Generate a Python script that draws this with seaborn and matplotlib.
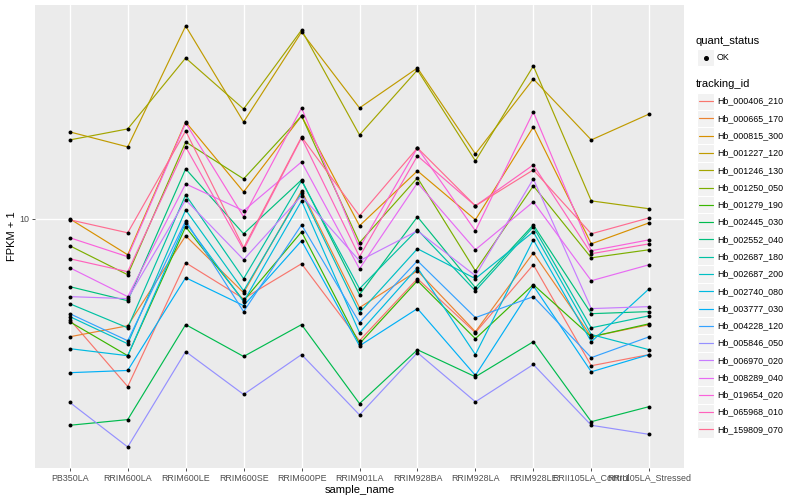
import numpy as np
import pandas as pd
import matplotlib
matplotlib.use("Agg")
import matplotlib.pyplot as plt
import seaborn as sns
from matplotlib.patches import Rectangle

# ---------------- data ----------------
samples = ["PB350LA", "RRIM600LA", "RRIM600LE", "RRIM600SE", "RRIM600PE", "RRIM901LA",
           "RRIM928BA", "RRIM928LA", "RRIM928LE", "RRII105LA_Control", "RRII105LA_Stressed"]

tracking_ids = ["Hb_000406_210", "Hb_000665_170", "Hb_000815_300", "Hb_001227_120",
                "Hb_001246_130", "Hb_001250_050", "Hb_001279_190", "Hb_002445_030",
                "Hb_002552_040", "Hb_002687_180", "Hb_002687_200", "Hb_002740_080",
                "Hb_003777_030", "Hb_004228_120", "Hb_005846_050", "Hb_006970_020",
                "Hb_008289_040", "Hb_019654_020", "Hb_065968_010", "Hb_159809_070"]

hb_000406_210 = [3.95, 2.13, 6.67, 4.79, 6.61, 3.25, 5.76, 3.50, 6.55, 2.58, 2.86]
hb_000665_170 = [3.37, 3.73, 8.55, 5.06, 12.94, 4.41, 6.19, 3.53, 7.31, 3.37, 3.77]
hb_000815_300 = [10.00, 7.18, 24.43, 12.82, 25.82, 9.38, 15.56, 9.91, 23.33, 7.94, 9.64]
hb_001227_120 = [22.29, 19.41, 59.16, 24.43, 55.98, 27.80, 40.18, 18.20, 36.31, 20.70, 26.30]
hb_001246_130 = [20.70, 22.91, 44.06, 27.54, 57.02, 21.68, 39.45, 17.06, 40.93, 11.80, 10.97]
hb_001250_050 = [7.80, 5.97, 20.32, 14.45, 25.82, 8.02, 14.59, 6.19, 13.55, 6.98, 7.52]
hb_001279_190 = [3.87, 2.83, 9.29, 4.70, 8.87, 3.16, 5.65, 3.31, 5.45, 3.37, 3.80]
hb_002445_030 = [1.49, 1.57, 3.77, 2.81, 3.77, 1.82, 2.99, 2.33, 3.22, 1.54, 1.77]
hb_002552_040 = [5.35, 4.70, 15.85, 8.71, 14.32, 4.97, 10.19, 5.30, 9.46, 4.17, 4.25]
hb_002687_180 = [4.57, 3.66, 12.47, 5.76, 14.19, 5.25, 9.04, 5.15, 9.29, 3.66, 4.09]
hb_002687_200 = [4.06, 3.16, 10.86, 5.15, 12.71, 4.21, 7.59, 5.76, 8.87, 3.44, 2.99]
hb_002740_080 = [3.02, 2.83, 9.64, 4.66, 11.80, 3.50, 6.37, 2.86, 8.24, 3.22, 5.25]
hb_003777_030 = [2.42, 2.47, 5.81, 4.49, 8.17, 3.10, 4.37, 2.36, 5.40, 2.44, 2.86]
hb_004228_120 = [4.17, 3.25, 9.82, 4.25, 9.46, 3.84, 6.79, 4.02, 4.88, 2.78, 3.37]
hb_005846_050 = [1.84, 1.22, 2.94, 1.98, 2.86, 1.64, 2.91, 1.85, 2.61, 1.49, 1.37]
hb_006970_020 = [4.88, 4.79, 11.91, 6.86, 12.36, 6.79, 8.95, 5.92, 14.45, 4.37, 4.45]
hb_008289_040 = [6.37, 4.88, 13.80, 10.77, 16.90, 6.31, 13.93, 7.52, 11.70, 5.65, 6.55]
hb_019654_020 = [8.40, 7.05, 24.21, 10.19, 27.80, 7.66, 19.23, 8.95, 26.79, 7.45, 8.24]
hb_065968_010 = [6.92, 6.14, 19.41, 7.52, 21.09, 7.05, 17.87, 11.27, 16.44, 7.25, 7.94]
hb_159809_070 = [9.91, 8.79, 22.49, 7.66, 21.28, 10.28, 19.23, 11.27, 15.70, 8.71, 10.09]

series_values = [hb_000406_210, hb_000665_170, hb_000815_300, hb_001227_120, hb_001246_130,
                 hb_001250_050, hb_001279_190, hb_002445_030, hb_002552_040, hb_002687_180,
                 hb_002687_200, hb_002740_080, hb_003777_030, hb_004228_120, hb_005846_050,
                 hb_006970_020, hb_008289_040, hb_019654_020, hb_065968_010, hb_159809_070]

quant_status = "OK"

# ---------------- styles ----------------
colors = ["#F8766D", "#EA8331", "#D89000", "#C09B00", "#A3A500", "#7CAE00", "#39B600",
          "#00BB4E", "#00BF7D", "#00C1A3", "#00BFC4", "#00BAE0", "#00B0F6", "#35A2FF",
          "#9590FF", "#C77CFF", "#E76BF3", "#FA62DB", "#FF62BC", "#FF6C91"]
palette = dict(zip(tracking_ids, colors))

rows = []
for tid, vals in zip(tracking_ids, series_values):
    for s, v in zip(samples, vals):
        rows.append({"tracking_id": tid, "sample_name": s, "fpkm1": v, "quant_status": quant_status})
df = pd.DataFrame(rows)
df["sample_name"] = pd.Categorical(df["sample_name"], categories=samples, ordered=True)
df["xpos"] = df["sample_name"].cat.codes

sns.set_theme(style="darkgrid")
plt.rcParams["font.family"] = ["Liberation Sans", "DejaVu Sans"]

fig = plt.figure(figsize=(8, 5), dpi=100)
W, H = 800, 500
pl, pr, pt, pb = 35, 684, 5, 468
ax = fig.add_axes([pl / W, (H - pb) / H, (pr - pl) / W, (pb - pt) / H])
ax.set_facecolor("#EBEBEB")

sns.lineplot(data=df, x="xpos", y="fpkm1", hue="tracking_id", palette=palette,
             hue_order=tracking_ids, units="tracking_id", estimator=None, sort=False,
             legend=False, linewidth=0.85, ax=ax)
sns.scatterplot(data=df, x="xpos", y="fpkm1", color="black", s=8, linewidth=0,
                legend=False, ax=ax, zorder=5)

ax.set_yscale("log")
lo = np.log10(df["fpkm1"].min())
hi = np.log10(df["fpkm1"].max())
pad = 0.05 * (hi - lo)
ax.set_ylim(10 ** (lo - pad), 10 ** (hi + pad))
ax.set_xlim(-0.6, len(samples) - 1 + 0.6)
ax.set_yticks([10])
ax.set_yticklabels(["10"])
ax.yaxis.set_minor_locator(matplotlib.ticker.NullLocator())
ax.set_xticks(range(len(samples)))
ax.set_xticklabels(samples)

ax.grid(True, which="major", color="white", linewidth=1.0)
ax.set_axisbelow(True)
for sp in ax.spines.values():
    sp.set_visible(False)
ax.tick_params(axis="both", which="major", length=2.2, width=0.6, color="#333333",
               labelsize=6.4, labelcolor="#4D4D4D", pad=1.8, bottom=True, left=True)

ax.set_xlabel("sample_name", fontsize=8.0, color="black", labelpad=2.0)
ax.set_ylabel("FPKM + 1", fontsize=8.0, color="black", labelpad=1.5)

# ---------------- legend (drawn in figure pixel coordinates) ----------------
lg = fig.add_axes([0, 0, 1, 1])
lg.set_xlim(0, W)
lg.set_ylim(H, 0)
lg.axis("off")
lg.patch.set_alpha(0)

key = 17.28
kx = 697
lg.text(696, 41, "quant_status", fontsize=8.0, va="center", ha="left", color="black")
lg.add_patch(Rectangle((kx, 49), key, key, facecolor="#F2F2F2", edgecolor="white", lw=0.8))
lg.plot([kx + key / 2], [49 + key / 2], marker="o", color="black", markersize=2.6, linestyle="none")
lg.text(717, 49 + key / 2, quant_status, fontsize=6.4, va="center", ha="left", color="black")

lg.text(696, 84, "tracking_id", fontsize=8.0, va="center", ha="left", color="black")
y0 = 92.5
for i, (tid, c) in enumerate(zip(tracking_ids, colors)):
    top = y0 + i * key
    lg.add_patch(Rectangle((kx, top), key, key, facecolor="#F2F2F2", edgecolor="white", lw=0.8))
    lg.plot([kx + 1.7, kx + key - 1.7], [top + key / 2, top + key / 2], color=c, lw=0.85)
    lg.text(717, top + key / 2, tid, fontsize=6.4, va="center", ha="left", color="black")

fig.savefig("out.png", dpi=100)
